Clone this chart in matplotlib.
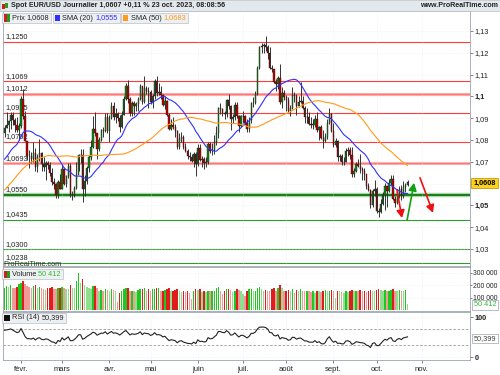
import numpy as np
import pandas as pd
import matplotlib
matplotlib.use("Agg")
import matplotlib.pyplot as plt
from matplotlib.patches import Rectangle, FancyArrowPatch

# closes before the first visible candle (Nov 7 2022 .. Jan 19 2023), only used to seed SMA / RSI
history_close = [1.0019, 1.0073, 1.0013, 1.0207, 1.0354, 1.0326, 1.0350, 1.0394, 1.0362, 1.0325,
                 1.0243, 1.0304, 1.0396, 1.0408, 1.0398, 1.0339, 1.0330, 1.0405, 1.0522, 1.0535,
                 1.0492, 1.0467, 1.0508, 1.0558, 1.0530, 1.0535, 1.0630, 1.0680, 1.0626, 1.0583,
                 1.0606, 1.0623, 1.0608, 1.0595, 1.0617, 1.0634, 1.0641, 1.0611, 1.0660, 1.0705,
                 1.0667, 1.0546, 1.0606, 1.0521, 1.0646, 1.0731, 1.0734, 1.0761, 1.0850, 1.0830,
                 1.0822, 1.0790, 1.0795, 1.0830]

# daily candles Jan 20 .. Oct 23 2023
close = [1.0856, 1.0871, 1.0886, 1.0913, 1.0891, 1.0868, 1.0846, 1.0863,
         1.0990, 1.0910, 1.0796, 1.0727, 1.0726, 1.0713, 1.0740, 1.0678, 1.0723, 1.0739,
         1.0688, 1.0674, 1.0695, 1.0686, 1.0650, 1.0606, 1.0597, 1.0546, 1.0609, 1.0576,
         1.0667, 1.0596, 1.0633, 1.0682, 1.0547, 1.0547, 1.0581, 1.0641, 1.0731, 1.0731,
         1.0577, 1.0610, 1.0670, 1.0720, 1.0770, 1.0850, 1.0830, 1.0760, 1.0800, 1.0845,
         1.0840, 1.0905, 1.0840,
         1.0900, 1.0955, 1.0905, 1.0920, 1.0900, 1.0860, 1.0915, 1.0990, 1.1050, 1.0990,
         1.0925, 1.0970, 1.0955, 1.0965, 1.0990, 1.1050, 1.0975, 1.1040, 1.1025, 1.1020,
         1.0975, 1.1000, 1.1070, 1.1015, 1.1020, 1.1005, 1.0960, 1.0980, 1.0915, 1.0850,
         1.0870, 1.0860, 1.0840, 1.0770, 1.0805, 1.0815, 1.0770, 1.0750, 1.0725, 1.0720,
         1.0705, 1.0735, 1.0690,
         1.0762, 1.0710, 1.0715, 1.0695, 1.0700, 1.0780, 1.0750, 1.0755, 1.0790, 1.0830,
         1.0945, 1.0940, 1.0925, 1.0920, 1.0985, 1.0955, 1.0895, 1.0905, 1.0960, 1.0910,
         1.0865, 1.0910,
         1.0910, 1.0880, 1.0850, 1.0890, 1.0970, 1.0970, 1.1010, 1.1130, 1.1225, 1.1230,
         1.1235, 1.1225, 1.1200, 1.1130, 1.1125, 1.1065, 1.1055, 1.1085, 1.0975, 1.1015,
         1.0995,
         1.0985, 1.0935, 1.0945, 1.1005, 1.1000, 1.0955, 1.0975, 1.0980, 1.0945, 1.0905,
         1.0905, 1.0875, 1.0870, 1.0870, 1.0895, 1.0845, 1.0860, 1.0810, 1.0795, 1.0815,
         1.0880, 1.0920, 1.0840,
         1.0775, 1.0795, 1.0720, 1.0725, 1.0700, 1.0700, 1.0750, 1.0755, 1.0730, 1.0645,
         1.0660, 1.0690, 1.0680, 1.0665, 1.0660, 1.0645, 1.0590, 1.0570, 1.0500, 1.0565,
         1.0575,
         1.0475, 1.0470, 1.0505, 1.0550, 1.0590, 1.0565, 1.0605, 1.0620, 1.0530, 1.0510,
         1.0560, 1.0575, 1.0545, 1.0585, 1.0595, 1.0608]

high = [1.0870, 1.0927, 1.0890, 1.0930, 1.0930, 1.0900, 1.0905, 1.0880,
        1.1000, 1.1033, 1.0935, 1.0790, 1.0755, 1.0745, 1.0790, 1.0765, 1.0735, 1.0805,
        1.0745, 1.0720, 1.0705, 1.0705, 1.0700, 1.0670, 1.0625, 1.0605, 1.0615, 1.0645,
        1.0690, 1.0675, 1.0640, 1.0695, 1.0695, 1.0565, 1.0590, 1.0700, 1.0735, 1.0760,
        1.0760, 1.0640, 1.0680, 1.0730, 1.0800, 1.0912, 1.0930, 1.0830, 1.0815, 1.0850,
        1.0860, 1.0925, 1.0925,
        1.0915, 1.0975, 1.0975, 1.0945, 1.0930, 1.0915, 1.0935, 1.1000, 1.1060, 1.1075,
        1.0995, 1.0980, 1.0980, 1.0975, 1.0995, 1.1055, 1.1050, 1.1095, 1.1050, 1.1045,
        1.1030, 1.1010, 1.1080, 1.1092, 1.1060, 1.1050, 1.1010, 1.1000, 1.0985, 1.0925,
        1.0895, 1.0905, 1.0875, 1.0845, 1.0830, 1.0835, 1.0825, 1.0785, 1.0760, 1.0745,
        1.0735, 1.0745, 1.0745,
        1.0780, 1.0780, 1.0725, 1.0720, 1.0720, 1.0790, 1.0790, 1.0785, 1.0825, 1.0865,
        1.0950, 1.0970, 1.0945, 1.0935, 1.0990, 1.1012, 1.0960, 1.0920, 1.0975, 1.0975,
        1.0915, 1.0915,
        1.0935, 1.0915, 1.0895, 1.0905, 1.0975, 1.0995, 1.1025, 1.1140, 1.1230, 1.1245,
        1.1245, 1.1276, 1.1235, 1.1225, 1.1145, 1.1125, 1.1080, 1.1095, 1.1150, 1.1045,
        1.1030,
        1.1005, 1.0995, 1.0960, 1.1045, 1.1020, 1.1010, 1.1000, 1.1065, 1.1000, 1.0955,
        1.0945, 1.0930, 1.0905, 1.0895, 1.0915, 1.0930, 1.0865, 1.0870, 1.0845, 1.0830,
        1.0895, 1.0945, 1.0925,
        1.0880, 1.0810, 1.0800, 1.0735, 1.0735, 1.0720, 1.0765, 1.0770, 1.0770, 1.0770,
        1.0670, 1.0700, 1.0715, 1.0735, 1.0675, 1.0670, 1.0645, 1.0605, 1.0575, 1.0575,
        1.0615,
        1.0585, 1.0490, 1.0530, 1.0560, 1.0605, 1.0575, 1.0620, 1.0640, 1.0640, 1.0545,
        1.0575, 1.0590, 1.0595, 1.0610, 1.0605, 1.0615]

low = [1.0815, 1.0855, 1.0836, 1.0850, 1.0870, 1.0835, 1.0835, 1.0800,
       1.0855, 1.0895, 1.0795, 1.0710, 1.0670, 1.0695, 1.0700, 1.0660, 1.0655, 1.0705,
       1.0660, 1.0660, 1.0615, 1.0665, 1.0635, 1.0595, 1.0575, 1.0535, 1.0535, 1.0575,
       1.0575, 1.0595, 1.0585, 1.0625, 1.0540, 1.0525, 1.0540, 1.0575, 1.0660, 1.0695,
       1.0516, 1.0545, 1.0600, 1.0655, 1.0710, 1.0765, 1.0820, 1.0715, 1.0750, 1.0795,
       1.0815, 1.0835, 1.0830,
       1.0790, 1.0895, 1.0890, 1.0880, 1.0885, 1.0835, 1.0855, 1.0915, 1.0985, 1.0970,
       1.0910, 1.0910, 1.0915, 1.0935, 1.0935, 1.0985, 1.0965, 1.0970, 1.1010, 1.0945,
       1.0965, 1.0945, 1.0990, 1.1000, 1.1005, 1.0990, 1.0955, 1.0940, 1.0910, 1.0845,
       1.0845, 1.0850, 1.0815, 1.0760, 1.0760, 1.0790, 1.0760, 1.0745, 1.0715, 1.0705,
       1.0700, 1.0675, 1.0635,
       1.0680, 1.0705, 1.0675, 1.0665, 1.0675, 1.0690, 1.0740, 1.0730, 1.0735, 1.0775,
       1.0810, 1.0920, 1.0910, 1.0895, 1.0905, 1.0940, 1.0845, 1.0880, 1.0890, 1.0900,
       1.0835, 1.0860,
       1.0880, 1.0870, 1.0835, 1.0835, 1.0880, 1.0950, 1.0965, 1.1005, 1.1125, 1.1200,
       1.1200, 1.1210, 1.1170, 1.1125, 1.1110, 1.1060, 1.1025, 1.1035, 1.0965, 1.0945,
       1.0985,
       1.0935, 1.0930, 1.0910, 1.0940, 1.0975, 1.0915, 1.0950, 1.0970, 1.0940, 1.0880,
       1.0880, 1.0870, 1.0855, 1.0850, 1.0860, 1.0835, 1.0800, 1.0805, 1.0765, 1.0790,
       1.0805, 1.0875, 1.0835,
       1.0770, 1.0770, 1.0705, 1.0705, 1.0685, 1.0685, 1.0700, 1.0725, 1.0715, 1.0630,
       1.0630, 1.0655, 1.0675, 1.0650, 1.0615, 1.0615, 1.0575, 1.0565, 1.0488, 1.0495,
       1.0545,
       1.0465, 1.0448, 1.0465, 1.0500, 1.0480, 1.0495, 1.0560, 1.0595, 1.0525, 1.0495,
       1.0505, 1.0535, 1.0525, 1.0535, 1.0560, 1.0590]

# volume (thousands)
volume = [175, 190, 185, 200, 180, 175, 185, 205,
          215, 230, 205, 190, 185, 180, 190, 200, 175, 185, 180, 170, 160, 175, 180, 185,
          170, 165, 175, 180,
          185, 180, 170, 165, 200, 180, 175, 230, 300, 215, 245, 200, 185, 175, 170, 190,
          195, 180, 155, 160, 150, 165, 160,
          150, 165, 160, 150, 65, 140, 155, 170, 175, 180, 150, 155, 150, 145, 160, 165,
          170, 180, 155, 165,
          150, 165, 170, 175, 180, 150, 155, 160, 165, 175, 150, 150, 160, 170, 155, 145,
          150, 145, 150, 140, 90, 150, 165,
          160, 165, 145, 150, 145, 155, 150, 150, 155, 175, 185, 150, 130, 150, 165, 170,
          160, 145, 155, 165, 160, 150,
          130, 110, 150, 165, 170, 150, 155, 175, 185, 165, 150, 160, 155, 150, 165, 175,
          155, 180, 200, 175, 150,
          155, 160, 150, 165, 140, 160, 150, 165, 155, 150, 155, 150, 145, 150, 140, 155,
          150, 145, 155, 160, 150, 155, 160,
          150, 95, 155, 150, 145, 140, 150, 145, 155, 160, 150, 155, 150, 160, 150, 155,
          145, 150, 160, 155, 150,
          160, 165, 160, 155, 160, 150, 155, 160, 165, 155, 150, 160, 155, 150, 160, 50.412]

month_labels = ["févr.", "mars", "avr.", "mai", "juin", "juil.", "août", "sept.", "oct.", "nov."]
month_pos = [8, 28, 51, 71, 94, 116, 137, 160, 181, 203]

red_levels = [1.1250, 1.1069, 1.0925, 1.0792]
pink_levels = [1.1012, 1.0693]
support_level = 1.0550
green_levels = [1.0435, 1.0300, 1.0238]

price_ticks = [1.03, 1.04, 1.05, 1.06, 1.07, 1.08, 1.09, 1.10, 1.11, 1.12, 1.13]

# ---------- indicators ----------
all_close = pd.Series(history_close + close)
n_hist = len(history_close)
sma20 = all_close.rolling(20).mean().to_numpy()[n_hist:]
sma50 = all_close.rolling(50).mean().to_numpy()[n_hist:]

delta = all_close.diff()
gain = delta.clip(lower=0).ewm(alpha=1 / 14, adjust=False).mean()
loss = (-delta.clip(upper=0)).ewm(alpha=1 / 14, adjust=False).mean()
rsi = (100 - 100 / (1 + gain / loss)).to_numpy()[n_hist:]

c = np.array(close)
o = np.array([history_close[-1]] + close[:-1])
h = np.array(high)
lo = np.array(low)
v = np.array(volume) * 1000
x = np.arange(len(c))
up = c >= o

# ---------- figure ----------
plt.rcParams["font.family"] = ["Liberation Sans", "DejaVu Sans"]
W, H = 500, 375
fig = plt.figure(figsize=(5, 3.75), dpi=100)
fs = 5.3

def fx(px):
    return px / W

def fy(py):
    return 1 - py / H

def box(rect):
    l, t, r, b = rect
    return [fx(l), fy(b), fx(r) - fx(l), fy(t) - fy(b)]

xlim = (-0.75, 226.4)
spine_col = "#9aa4ad"

ax = fig.add_axes(box((3, 11, 470, 266)))
axv = fig.add_axes(box((3, 267, 470, 311)))
axr = fig.add_axes(box((3, 312, 470, 360)))

for a in (ax, axv, axr):
    a.set_xlim(*xlim)
    for s in a.spines.values():
        s.set_color(spine_col)
        s.set_linewidth(0.6)
    a.yaxis.tick_right()
    a.tick_params(axis="y", length=2, width=0.5, colors="#555555", labelsize=fs, pad=1.5)
    a.set_xticks(month_pos)
    a.grid(True, color="#e6e6e6", lw=0.4, ls=":")
ax.tick_params(axis="x", length=0, labelbottom=False)
axv.tick_params(axis="x", length=0, labelbottom=False)
axv.tick_params(axis="y", labelsize=4.9, pad=1, length=1.5)
axr.tick_params(axis="x", length=2, width=0.5, colors="#555555", labelsize=5.5, pad=2.5)
axr.set_xticklabels(month_labels, color="#222222")

# ---------- price panel ----------
ax.set_ylim(1.02222, 1.13917)
ax.set_yticks(price_ticks)
tick_txt = []
for t in price_ticks:
    s = f"{t:.2f}".rstrip("0").replace(".", ",")
    tick_txt.append("" if abs(t - 1.06) < 1e-9 else s)
ax.set_yticklabels(tick_txt, color="#222222")
for lab, t in zip(ax.get_yticklabels(), price_ticks):
    if round(t * 100) % 5 == 0:
        lab.set_fontweight("bold")

for lv in red_levels:
    ax.axhline(lv, color="#ff3b3b", lw=0.8, zorder=1)
for lv in pink_levels:
    ax.axhline(lv, color="#ff9c9c", lw=2.0, zorder=1)
    ax.axhline(lv, color="#ff6a6a", lw=0.5, zorder=1)
ax.axhline(support_level, color="#a8d8a8", lw=3.2, zorder=1)
ax.axhline(support_level, color="#1c7a1c", lw=1.4, zorder=1)
for lv in green_levels:
    ax.axhline(lv, color="#2f9a2f", lw=0.8, zorder=1)

for lv in red_levels + pink_levels + [support_level] + green_levels:
    ax.annotate(f"{lv:.4f}".replace(".", ","), xy=(0, lv), xycoords=("axes fraction", "data"),
                xytext=(1.5, 1.0), textcoords="offset points", fontsize=fs, color="#222222",
                va="bottom", ha="left")

ax.vlines(x, lo, h, color="#333333", lw=0.7, zorder=3)
body_bot = np.minimum(o, c)
body_h = np.maximum(np.abs(c - o), 0.00012)
ax.bar(x[up], body_h[up], bottom=body_bot[up], width=0.65, color="#128a12",
       edgecolor="#1a1a1a", lw=0.3, zorder=4)
ax.bar(x[~up], body_h[~up], bottom=body_bot[~up], width=0.65, color="#b80000",
       edgecolor="#1a1a1a", lw=0.3, zorder=4)

ax.plot(x, sma20, color="#3030ff", lw=0.8, zorder=5)
ax.plot(x, sma50, color="#ff9a1a", lw=0.8, zorder=5)

arrows = [((190.9, 1.05706), (193.3, 1.04422), "#ee1111"),
          ((195.8, 1.04330), (199.2, 1.06037), "#12a012"),
          ((202.1, 1.06266), (208.4, 1.04661), "#ee1111")]
for (x0, y0), (x1, y1), col in arrows:
    ax.add_patch(FancyArrowPatch((x0, y0), (x1, y1), arrowstyle="-|>,head_length=4.5,head_width=2.4",
                                 color=col, lw=1.2, zorder=6, shrinkA=0, shrinkB=0))

fig.text(fx(3), fy(268.5), "ProRealTime.com", fontsize=fs, color="#333333",
         va="bottom", ha="left", zorder=10)

# last price tag
fig.text(fx(484.5), fy(183), "1,0608", fontsize=fs, fontweight="bold", ha="center", va="center",
         bbox=dict(boxstyle="square,pad=0.25", fc="#ffd21a", ec="#b09000", lw=0.5), zorder=10)

# ---------- volume panel ----------
vol_col = []
for i in range(len(v)):
    bright = i == 0 or v[i] >= v[i - 1]
    if up[i]:
        vol_col.append("#1ec81e" if bright else "#8ee08e")
    else:
        vol_col.append("#e01c1c" if bright else "#f29a9a")
axv.bar(x, v, width=0.72, color=vol_col, lw=0, zorder=3)
axv.set_ylim(-8000, 344000)
axv.set_yticks([100000, 200000, 300000])
axv.set_yticklabels(["100 000", "200 000", "300 000"], color="#222222")
fig.text(fx(485), fy(305), "50 412", fontsize=fs, color="#33bb33", ha="center", va="center",
         bbox=dict(boxstyle="square,pad=0.2", fc="white", ec="#9aa4ad", lw=0.5), zorder=10)

# ---------- RSI panel ----------
axr.plot(x, rsi, color="#222222", lw=0.8, zorder=3)
axr.axhline(70, color="#999999", lw=0.6, ls=(0, (3, 2)))
axr.axhline(30, color="#999999", lw=0.6, ls=(0, (3, 2)))
axr.set_ylim(-7.5, 112.5)
axr.set_yticks([0, 100])
axr.set_yticklabels(["0", "100"], color="#222222", fontweight="bold")
fig.text(fx(485), fy(338.5), "50,399", fontsize=fs, color="#444444",
         ha="center", va="center",
         bbox=dict(boxstyle="square,pad=0.2", fc="white", ec="#9aa4ad", lw=0.5), zorder=10)

# ---------- header and legend boxes ----------
fig.patches.append(Rectangle((0, fy(11)), 1, fy(0) - fy(11), transform=fig.transFigure,
                             fc="#e3e8ec", ec="#b8c0c8", lw=0.5, zorder=0))
fig.patches.append(Rectangle((fx(2), fy(9)), fx(2.5), fy(4) - fy(9), transform=fig.transFigure,
                             fc="#d02020", ec="none"))
fig.patches.append(Rectangle((fx(5), fy(8)), fx(2.5), fy(3) - fy(8), transform=fig.transFigure,
                             fc="#20a020", ec="none"))
fig.text(fx(11), fy(5.5), "Spot EUR/USD Journalier 1,0607 +0,11 % 23 oct. 2023, 08:08:56",
         fontsize=5.1, fontweight="bold", color="#222222", va="center")
fig.text(fx(498), fy(5.5), "www.ProRealTime.com", fontsize=5.1, fontweight="bold",
         color="#222222", va="center", ha="right")


def legend_box(l, cy, name, val, col, icon):
    # text first, box sized to the text afterwards
    t1 = fig.text(fx(l + 10), fy(cy), name + " ", fontsize=fs, color="#222222", va="center", zorder=11)
    fig.canvas.draw()
    b1 = t1.get_window_extent()
    t2 = fig.text(b1.x1 / W, fy(cy), val, fontsize=fs, color=col, va="center", zorder=11)
    fig.canvas.draw()
    r = t2.get_window_extent().x1 + 2
    fig.patches.append(Rectangle((fx(l), fy(cy + 5)), r / W - fx(l), fy(cy - 5) - fy(cy + 5),
                                 transform=fig.transFigure, fc="#edf0f2", ec="#b8c0c8", lw=0.5,
                                 zorder=9))
    if len(icon) == 2:
        for k, ic in enumerate(icon):
            fig.patches.append(Rectangle((fx(l + 1.5 + 3 * k), fy(cy + 3.5)), fx(3), fy(cy - 3.5) - fy(cy + 3.5),
                                         transform=fig.transFigure, fc=ic, ec="none", zorder=10))
    else:
        fig.patches.append(Rectangle((fx(l + 2), fy(cy + 3)), fx(5.5), fy(cy - 3) - fy(cy + 3),
                                     transform=fig.transFigure, fc=icon[0], ec="none", zorder=10))
    return r


r1 = legend_box(2, 18, "Prix", "1,0608", "#222222", ["#d02020", "#20a020"])
r2 = legend_box(r1 + 1, 18, "SMA (20)", "1,0555", "#3030ff", ["#3030ff"])
legend_box(r2 + 1, 18, "SMA (50)", "1,0683", "#ff9a1a", ["#ff9a1a"])
legend_box(2, 274, "Volume", "50 412", "#33bb33", ["#d02020", "#20a020"])
legend_box(2, 317.5, "RSI (14)", "50,399", "#222222", ["#111111"])

fig.savefig("out.png", dpi=100)
